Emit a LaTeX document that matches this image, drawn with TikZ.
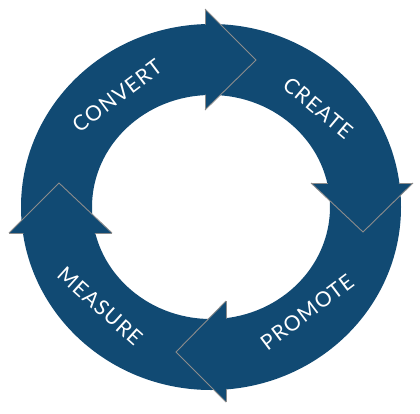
\documentclass[tikz,border=0pt]{standalone}
\usepackage{fontspec}
\setmainfont{Lato}[LetterSpace=6]
\definecolor{ringblue}{RGB}{17,74,115}
\definecolor{edgegrey}{RGB}{140,140,140}
\tikzset{
  ringfill/.style={fill=ringblue},
  edgeline/.style={draw=edgegrey, line width=0.9pt, line join=miter},
  lbl/.style={text=white, font=\fontsize{21}{25}\selectfont, inner sep=0pt}
}
\begin{document}
\begin{tikzpicture}[x=1pt,y=-1pt]
\useasboundingbox (0,0) rectangle (420,413);
\coordinate (c) at (211,207);
% ring
\fill[ringfill, even odd rule] (c) ellipse [x radius=190pt, y radius=183pt]
  (c) ellipse [x radius=119pt, y radius=112pt];
% arrowhead points
\coordinate (ta) at (205,9);   \coordinate (tt) at (256,60);  \coordinate (tb) at (205,110);
\coordinate (ra) at (413,183); \coordinate (rt) at (363,232); \coordinate (rb) at (311,183);
\coordinate (ba) at (226,402); \coordinate (bt) at (176,352); \coordinate (bb) at (226,301);
\coordinate (la) at (9,233);   \coordinate (lt) at (59,183);  \coordinate (lb) at (112,233);
% heads
\foreach \p in {t,r,b,l}{
  \fill[ringfill] (\p a) -- (\p t) -- (\p b) -- cycle;
  \draw[edgeline] (\p a) -- (\p t) -- (\p b);
}
% back edges, only outside the ring
\begin{scope}[even odd rule]
  \clip (-20,-20) rectangle (440,433)
    (c) ellipse [x radius=189.5pt, y radius=182.5pt]
    (c) ellipse [x radius=119.5pt, y radius=112.5pt];
  \foreach \p in {t,r,b,l}{
    \draw[edgeline] (\p a) -- (\p b);
  }
\end{scope}
% labels
\node[lbl, rotate=37] (convert) at (117,96) {CONVERT};
\node[lbl, rotate=-40] (create) at (318,108) {CREATE};
\node[lbl, rotate=37] (promote) at (307,312) {PROMOTE};
\node[lbl, rotate=-42] (measure) at (100,306) {MEASURE};
\end{tikzpicture}
\end{document}
